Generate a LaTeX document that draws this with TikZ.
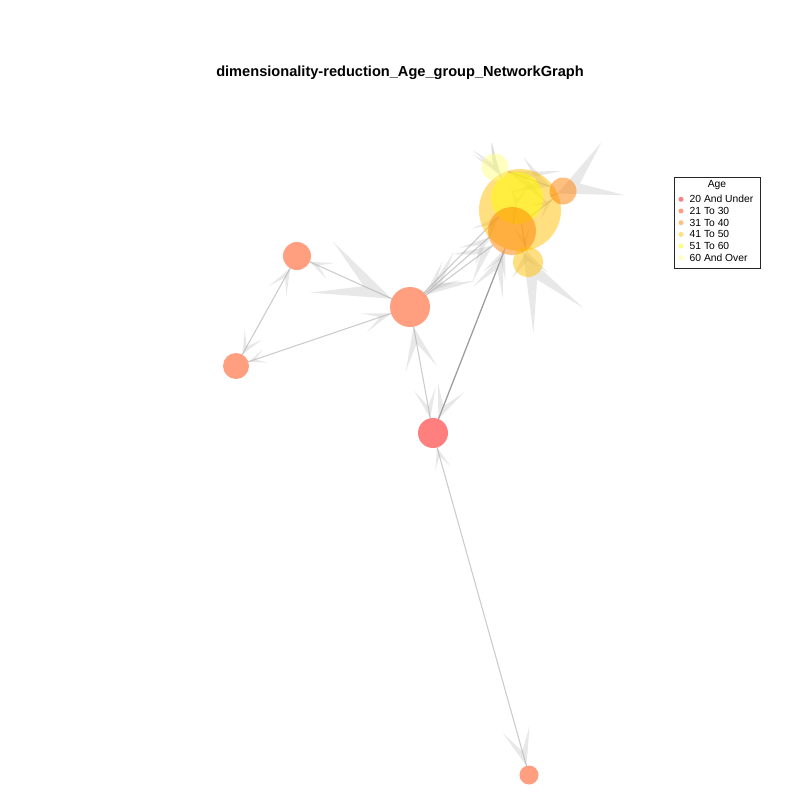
\documentclass[tikz,border=0pt]{standalone}
\usepackage{fontspec}
\setmainfont{Liberation Sans}
\usetikzlibrary{calc}
\pgfdeclarelayer{bg}
\pgfsetlayers{bg,main}
\definecolor{h1}{HTML}{FF0000}
\definecolor{h2}{HTML}{FF4000}
\definecolor{h3}{HTML}{FF8000}
\definecolor{h4}{HTML}{FFBF00}
\definecolor{h5}{HTML}{FFFF00}
\definecolor{h6}{HTML}{FFFF80}
\tikzset{
  vtx/.style={circle, inner sep=0pt, outer sep=0pt, fill opacity=0.5},
  edgeline/.style={draw=gray, draw opacity=0.4, line width=1.1pt},
  head/.style={fill=gray!60, fill opacity=0.3},
  legdot/.style={circle, inner sep=0pt, minimum size=5pt, fill opacity=0.5},
  legtext/.style={anchor=west, inner sep=0pt, font=\fontsize{10.3}{12}\selectfont},
}
% src, tgt, radius of tgt, length, half width
\newcommand\arr[5]{%
  \path ($(#2.center)!#3pt!(#1.center)$) coordinate (ht)
        ($(#2.center)!#3pt+#4pt!(#1.center)$) coordinate (hb)
        ($(#2.center)!#3pt+0.4*#4pt!(#1.center)$) coordinate (hn);
  \fill[head] (ht) -- ($(hb)!#5pt!90:(ht)$) -- (hn) -- ($(hb)!#5pt!-90:(ht)$) -- cycle;
}
\newcommand\edg[2]{\draw[edgeline] (#1) -- (#2);}
\begin{document}
\begin{tikzpicture}[x=1pt,y=-1pt]
\useasboundingbox (0,0) rectangle (800,800);
\node[font=\bfseries\fontsize{14.6}{17}\selectfont] (title) at (400,73) {dimensionality-reduction\_Age\_group\_NetworkGraph};

% vertices
\node[vtx, minimum size=40pt, fill=h2] (A) at (410,307) {};
\node[vtx, minimum size=28pt, fill=h2] (B) at (297,256) {};
\node[vtx, minimum size=26pt, fill=h2] (C) at (236,366) {};
\node[vtx, minimum size=30pt, fill=h1] (D) at (433,433) {};
\node[vtx, minimum size=19pt, fill=h2] (E) at (529,775) {};
\node[vtx, minimum size=82pt, fill=h4] (G) at (520,210) {};
\node[vtx, minimum size=52pt, fill=h5] (Y) at (517,198) {};
\node[vtx, minimum size=48pt, fill=h3] (O) at (512,231) {};
\node[vtx, minimum size=27pt, fill=h3] (S) at (563,191) {};
\node[vtx, minimum size=27pt, fill=h6] (P) at (495,167) {};
\node[vtx, minimum size=30pt, fill=h4] (Q) at (528,262) {};

% edges
\begin{pgfonlayer}{bg}
\begin{scope}
\clip (0,143) rectangle (800,800);
\edg{A}{B}\edg{B}{C}\edg{A}{C}\edg{A}{D}\edg{D}{O}\edg{O}{D}\edg{D}{G}
\edg{D}{E}\edg{A}{O}\edg{A}{G}\edg{S}{G}\edg{Q}{O}\edg{Q}{G}\edg{P}{G}
\edg{P}{Y}\edg{P}{S}\edg{Y}{O}\edg{Y}{Q}\edg{O}{S}\edg{A}{Y}
\arr{B}{A}{20}{77}{28}
\arr{A}{B}{14}{23}{9}
\arr{C}{B}{14}{26}{10}
\arr{B}{C}{13}{23}{10}
\arr{C}{A}{20}{29}{10}
\arr{A}{C}{13}{18}{7}
\arr{D}{A}{20}{43}{16}
\arr{A}{D}{15}{30}{11}
\arr{O}{D}{15}{34}{14}
\arr{D}{O}{24}{42}{16}
\arr{D}{G}{41}{30}{12}
\arr{E}{D}{15}{22}{8}
\arr{D}{E}{9.5}{38}{14}
\arr{O}{A}{20}{48}{18}
\arr{A}{O}{24}{38}{17}
\arr{G}{A}{20}{35}{13}
\arr{A}{G}{41}{30}{12}
\arr{A}{Y}{26}{28}{11}
\arr{S}{G}{41}{61}{29}
\arr{Q}{O}{24}{77}{28}
\arr{Q}{G}{41}{25}{18}
\arr{P}{G}{41}{35}{11}
\arr{P}{Y}{26}{35}{11}
\arr{P}{S}{13.5}{35}{18.7}
\arr{S}{P}{13.5}{50}{18}
\arr{Y}{O}{24}{20}{8}
\arr{Y}{Q}{15}{20}{8}
\arr{O}{S}{13.5}{22}{9}
\end{scope}
\end{pgfonlayer}

% legend
\draw[line width=0.6pt, draw=black!85] (674,177) rectangle (760.5,268);
\node[font=\fontsize{10.3}{12}\selectfont] (legtitle) at (717,185) {Age};
\node[legdot, fill=h1] (d1) at (681,199.3) {};
\node[legdot, fill=h2] (d2) at (681,211.0) {};
\node[legdot, fill=h3] (d3) at (681,222.7) {};
\node[legdot, fill=h4] (d4) at (681,234.4) {};
\node[legdot, fill=h5] (d5) at (681,246.1) {};
\node[legdot, fill=h6] (d6) at (681,257.8) {};
\node[legtext] (t1) at (689.5,199.3) {20 And Under};
\node[legtext] (t2) at (689.5,211.0) {21 To 30};
\node[legtext] (t3) at (689.5,222.7) {31 To 40};
\node[legtext] (t4) at (689.5,234.4) {41 To 50};
\node[legtext] (t5) at (689.5,246.1) {51 To 60};
\node[legtext] (t6) at (689.5,257.8) {60 And Over};
\end{tikzpicture}
\end{document}
